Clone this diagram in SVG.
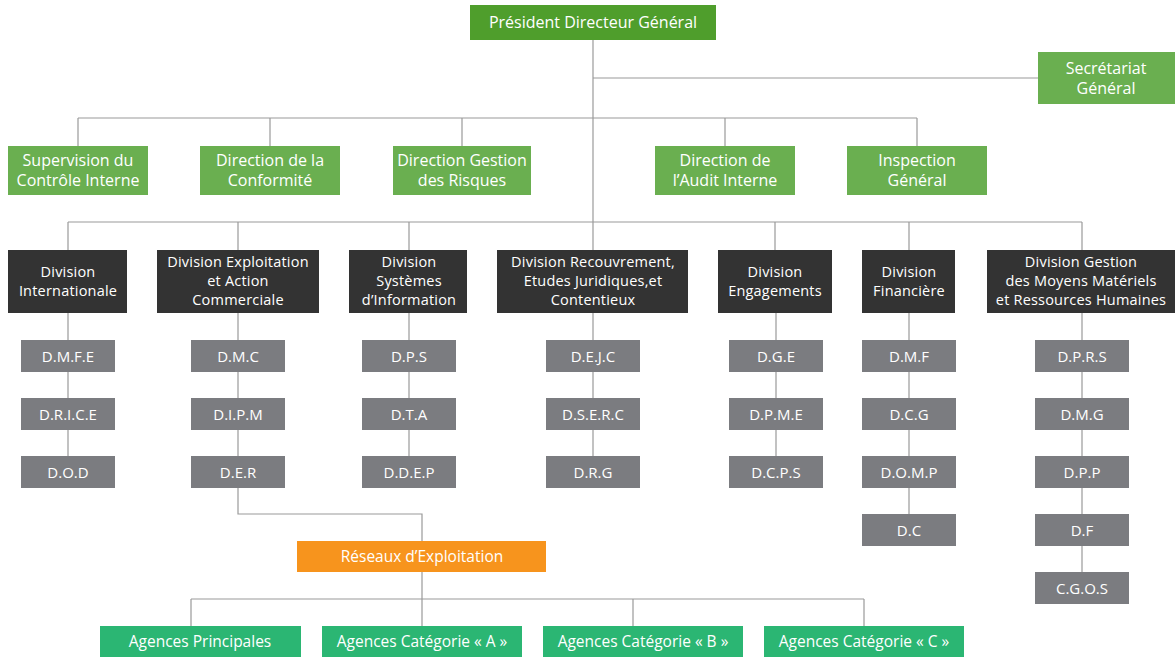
<svg xmlns="http://www.w3.org/2000/svg" width="1175" height="660" viewBox="0 0 1175 660">
<style>
text{font-family:"Open Sans","Liberation Sans",sans-serif;fill:#fff;text-anchor:middle;dominant-baseline:central}
.pdg{fill:#4f9e2c}
.g{fill:#6aaf50}
.d{fill:#333333}
.s{fill:#7b7c80}
.o{fill:#f7941d}
.a{fill:#2bb673}
.t16{font-size:16px}
.t15{font-size:15.5px}
.t14{font-size:14.5px;letter-spacing:0.2px}
.ts{font-size:15px}
#connectors path{fill:none;stroke:#9a9a9a;stroke-width:1.2}
</style>
<rect width="1175" height="660" fill="#fff"/>
<g id="connectors">
<path d="M593 40V250"/>
<path d="M593 78H1038"/>
<path d="M78 118H917M78 118V146M270 118V146M462 118V146M725 118V146M917 118V146"/>
<path d="M68 222H1082M68 222V250M238 222V250M409 222V250M775 222V250M909 222V250M1082 222V250"/>
<path d="M68 313V488M238 313V488M409 313V488M593 313V488M776 313V488M909 313V546M1082 313V604"/>
<path d="M238 488V514H422V541"/>
<path d="M422 571V599M191 599H864M191 599V626M422 599V626M633 599V626M864 599V626"/>
</g>
<g id="pdg"><rect class="pdg" x="470" y="5" width="246" height="35"/><text class="t16" x="593" y="22">Président Directeur Général</text></g>
<g id="secretariat"><rect class="g" x="1038" y="52" width="137" height="52"/><text class="t16" x="1106" y="68">Secrétariat</text><text class="t16" x="1106" y="88">Général</text></g>
<g id="supervision"><rect class="g" x="8" y="146" width="140" height="49"/><text class="t16" x="78" y="160">Supervision du</text><text class="t16" x="78" y="180">Contrôle Interne</text></g>
<g id="conformite"><rect class="g" x="200" y="146" width="140" height="49"/><text class="t16" x="270" y="160">Direction de la</text><text class="t16" x="270" y="180">Conformité</text></g>
<g id="risques"><rect class="g" x="393" y="146" width="138" height="49"/><text class="t16" x="462" y="160">Direction Gestion</text><text class="t16" x="462" y="180">des Risques</text></g>
<g id="audit"><rect class="g" x="655" y="146" width="140" height="49"/><text class="t16" x="725" y="160">Direction de</text><text class="t16" x="725" y="180">l’Audit Interne</text></g>
<g id="inspection"><rect class="g" x="847" y="146" width="140" height="49"/><text class="t16" x="917" y="160">Inspection</text><text class="t16" x="917" y="180">Général</text></g>
<g id="div-int"><rect class="d" x="8" y="250" width="119" height="63"/><text class="t14" x="68" y="271">Division</text><text class="t14" x="68" y="290">Internationale</text></g>
<g id="div-exp"><rect class="d" x="157" y="250" width="162" height="63"/><text class="t14" x="238" y="261">Division Exploitation</text><text class="t14" x="238" y="280">et Action</text><text class="t14" x="238" y="299">Commerciale</text></g>
<g id="div-si"><rect class="d" x="349" y="250" width="118" height="63"/><text class="t14" x="409" y="261">Division</text><text class="t14" x="409" y="280">Systèmes</text><text class="t14" x="409" y="299">d’Information</text></g>
<g id="div-rec"><rect class="d" x="497" y="250" width="191" height="63"/><text class="t14" x="593" y="261">Division Recouvrement,</text><text class="t14" x="593" y="280">Etudes Juridiques,et</text><text class="t14" x="593" y="299">Contentieux</text></g>
<g id="div-eng"><rect class="d" x="718" y="250" width="114" height="63"/><text class="t14" x="775" y="271">Division</text><text class="t14" x="775" y="290">Engagements</text></g>
<g id="div-fin"><rect class="d" x="862" y="250" width="93" height="63"/><text class="t14" x="909" y="271">Division</text><text class="t14" x="909" y="290">Financière</text></g>
<g id="div-ges"><rect class="d" x="987" y="250" width="188" height="63"/><text class="t14" x="1081" y="261">Division Gestion</text><text class="t14" x="1081" y="280">des Moyens Matériels</text><text class="t14" x="1081" y="299">et Ressources Humaines</text></g>
<g id="dmfe"><rect class="s" x="21" y="340" width="94" height="32"/><text class="ts" x="68" y="356">D.M.F.E</text></g>
<g id="drice"><rect class="s" x="21" y="398" width="94" height="32"/><text class="ts" x="68" y="414">D.R.I.C.E</text></g>
<g id="dod"><rect class="s" x="21" y="456" width="94" height="32"/><text class="ts" x="68" y="472">D.O.D</text></g>
<g id="dmc"><rect class="s" x="191" y="340" width="94" height="32"/><text class="ts" x="238" y="356">D.M.C</text></g>
<g id="dipm"><rect class="s" x="191" y="398" width="94" height="32"/><text class="ts" x="238" y="414">D.I.P.M</text></g>
<g id="der"><rect class="s" x="191" y="456" width="94" height="32"/><text class="ts" x="238" y="472">D.E.R</text></g>
<g id="dps"><rect class="s" x="362" y="340" width="94" height="32"/><text class="ts" x="409" y="356">D.P.S</text></g>
<g id="dta"><rect class="s" x="362" y="398" width="94" height="32"/><text class="ts" x="409" y="414">D.T.A</text></g>
<g id="ddep"><rect class="s" x="362" y="456" width="94" height="32"/><text class="ts" x="409" y="472">D.D.E.P</text></g>
<g id="dejc"><rect class="s" x="546" y="340" width="94" height="32"/><text class="ts" x="593" y="356">D.E.J.C</text></g>
<g id="dserc"><rect class="s" x="546" y="398" width="94" height="32"/><text class="ts" x="593" y="414">D.S.E.R.C</text></g>
<g id="drg"><rect class="s" x="546" y="456" width="94" height="32"/><text class="ts" x="593" y="472">D.R.G</text></g>
<g id="dge"><rect class="s" x="729" y="340" width="94" height="32"/><text class="ts" x="776" y="356">D.G.E</text></g>
<g id="dpme"><rect class="s" x="729" y="398" width="94" height="32"/><text class="ts" x="776" y="414">D.P.M.E</text></g>
<g id="dcps"><rect class="s" x="729" y="456" width="94" height="32"/><text class="ts" x="776" y="472">D.C.P.S</text></g>
<g id="dmf"><rect class="s" x="862" y="340" width="94" height="32"/><text class="ts" x="909" y="356">D.M.F</text></g>
<g id="dcg"><rect class="s" x="862" y="398" width="94" height="32"/><text class="ts" x="909" y="414">D.C.G</text></g>
<g id="domp"><rect class="s" x="862" y="456" width="94" height="32"/><text class="ts" x="909" y="472">D.O.M.P</text></g>
<g id="dc"><rect class="s" x="862" y="514" width="94" height="32"/><text class="ts" x="909" y="530">D.C</text></g>
<g id="dprs"><rect class="s" x="1035" y="340" width="94" height="32"/><text class="ts" x="1082" y="356">D.P.R.S</text></g>
<g id="dmg"><rect class="s" x="1035" y="398" width="94" height="32"/><text class="ts" x="1082" y="414">D.M.G</text></g>
<g id="dpp"><rect class="s" x="1035" y="456" width="94" height="32"/><text class="ts" x="1082" y="472">D.P.P</text></g>
<g id="df"><rect class="s" x="1035" y="514" width="94" height="32"/><text class="ts" x="1082" y="530">D.F</text></g>
<g id="cgos"><rect class="s" x="1035" y="572" width="94" height="32"/><text class="ts" x="1082" y="588">C.G.O.S</text></g>
<g id="reseaux"><rect class="o" x="297" y="541" width="249" height="31"/><text class="t15" x="422" y="556">Réseaux d’Exploitation</text></g>
<g id="ag-p"><rect class="a" x="100" y="626" width="201" height="31"/><text class="t15" x="200" y="641">Agences Principales</text></g>
<g id="ag-a"><rect class="a" x="322" y="626" width="200" height="31"/><text class="t15" x="422" y="641">Agences Catégorie « A »</text></g>
<g id="ag-b"><rect class="a" x="543" y="626" width="200" height="31"/><text class="t15" x="643" y="641">Agences Catégorie « B »</text></g>
<g id="ag-c"><rect class="a" x="764" y="626" width="200" height="31"/><text class="t15" x="864" y="641">Agences Catégorie « C »</text></g>
</svg>
